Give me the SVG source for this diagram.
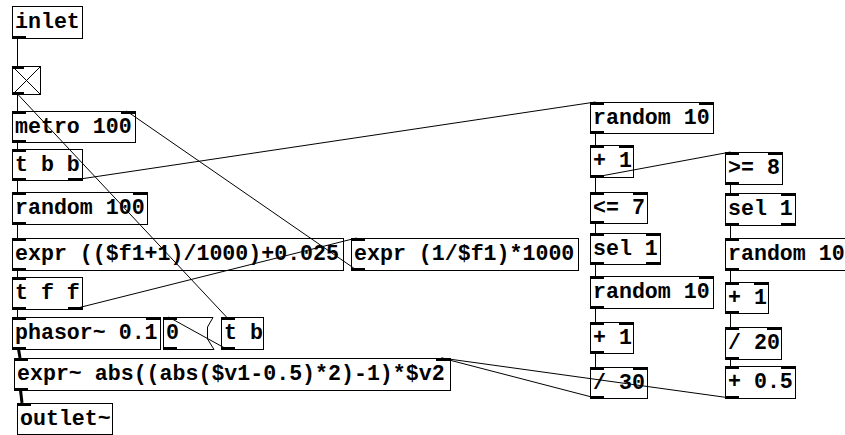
<svg xmlns="http://www.w3.org/2000/svg" width="845" height="435" viewBox="0 0 845 435">
  <defs>
    <style>
      .box { fill: none; stroke: #000; stroke-width: 1; }
      .io { fill: #000; }
      .t { font-family: "Liberation Mono", "DejaVu Sans Mono", monospace; font-weight: bold; font-size: 21.6px; fill: #000; }
      .c { fill: none; stroke: #000; stroke-width: 1; }
      .s { fill: none; stroke: #000; stroke-width: 3; }
    </style>
  </defs>
  <rect x="0" y="0" width="845" height="435" fill="#fff"/>

  <g id="nodes">
    <g id="inlet">
      <rect class="box" x="12.5" y="6.5" width="70" height="32"/>
      <rect class="io" x="12" y="36" width="14" height="3"/>
      <text class="t" x="15" y="28">inlet</text>
    </g>
    <g id="toggle">
      <rect class="box" x="12.5" y="66.5" width="28" height="28"/>
      <path class="c" d="M12.5,66.5 L40.5,94.5 M40.5,66.5 L12.5,94.5"/>
      <rect class="io" x="12" y="66" width="12" height="3"/>
      <rect class="io" x="12" y="92" width="12" height="3"/>
    </g>
    <g id="metro">
      <rect class="box" x="12.5" y="111.5" width="123" height="31"/>
      <rect class="io" x="12" y="111" width="14" height="3"/>
      <rect class="io" x="121" y="111" width="14" height="3"/>
      <rect class="io" x="12" y="140" width="14" height="3"/>
      <text class="t" x="15" y="133">metro 100</text>
    </g>
    <g id="trigger-bb">
      <rect class="box" x="12.5" y="149.5" width="70" height="31"/>
      <rect class="io" x="12" y="149" width="14" height="3"/>
      <rect class="io" x="12" y="178" width="14" height="3"/>
      <rect class="io" x="68" y="178" width="14" height="3"/>
      <text class="t" x="15" y="171">t b b</text>
    </g>
    <g id="random-100">
      <rect class="box" x="12.5" y="192.5" width="135" height="32"/>
      <rect class="io" x="12" y="192" width="14" height="3"/>
      <rect class="io" x="133" y="192" width="14" height="3"/>
      <rect class="io" x="12" y="222" width="14" height="3"/>
      <text class="t" x="15" y="214">random 100</text>
    </g>
    <g id="expr-period">
      <rect class="box" x="12.5" y="238.5" width="331" height="32"/>
      <rect class="io" x="12" y="238" width="14" height="3"/>
      <rect class="io" x="12" y="268" width="14" height="3"/>
      <text class="t" x="15" y="260">expr (($f1+1)/1000)+0.025</text>
    </g>
    <g id="expr-interval">
      <rect class="box" x="351.5" y="238.5" width="227" height="32"/>
      <rect class="io" x="351" y="238" width="14" height="3"/>
      <rect class="io" x="351" y="268" width="14" height="3"/>
      <text class="t" x="354" y="260">expr (1/$f1)*1000</text>
    </g>
    <g id="trigger-ff">
      <rect class="box" x="12.5" y="277.5" width="70" height="32"/>
      <rect class="io" x="12" y="277" width="14" height="3"/>
      <rect class="io" x="12" y="307" width="14" height="3"/>
      <rect class="io" x="68" y="307" width="14" height="3"/>
      <text class="t" x="15" y="299">t f f</text>
    </g>
    <g id="phasor">
      <rect class="box" x="12.5" y="317.5" width="148" height="32"/>
      <rect class="io" x="12" y="317" width="14" height="3"/>
      <rect class="io" x="146" y="317" width="14" height="3"/>
      <rect class="io" x="12" y="347" width="14" height="3"/>
      <text class="t" x="15" y="339">phasor~ 0.1</text>
    </g>
    <g id="msg-zero">
      <path class="box" d="M163.5,317.5 H213 L207.5,327 V339 L214,349.5 H163.5 Z"/>
      <rect class="io" x="163" y="317" width="14" height="3"/>
      <rect class="io" x="163" y="347" width="14" height="3"/>
      <text class="t" x="166" y="339">0</text>
    </g>
    <g id="trigger-b">
      <rect class="box" x="221.5" y="317.5" width="42" height="32"/>
      <rect class="io" x="221" y="317" width="14" height="3"/>
      <rect class="io" x="221" y="347" width="14" height="3"/>
      <text class="t" x="224" y="339">t b</text>
    </g>
    <g id="expr-tri">
      <rect class="box" x="14.5" y="358.5" width="436" height="32"/>
      <rect class="io" x="14" y="358" width="14" height="3"/>
      <rect class="io" x="436" y="358" width="14" height="3"/>
      <rect class="io" x="14" y="388" width="14" height="3"/>
      <text class="t" x="17" y="380">expr~ abs((abs($v1-0.5)*2)-1)*$v2</text>
    </g>
    <g id="outlet">
      <rect class="box" x="17.5" y="403.5" width="95" height="31"/>
      <rect class="io" x="17" y="403" width="14" height="3"/>
      <text class="t" x="20" y="425">outlet~</text>
    </g>

    <g id="random-10-a">
      <rect class="box" x="590.5" y="102.5" width="123" height="31"/>
      <rect class="io" x="590" y="102" width="14" height="3"/>
      <rect class="io" x="699" y="102" width="14" height="3"/>
      <rect class="io" x="590" y="131" width="14" height="3"/>
      <text class="t" x="593" y="124">random 10</text>
    </g>
    <g id="plus-1-a">
      <rect class="box" x="590.5" y="145.5" width="43" height="32"/>
      <rect class="io" x="590" y="145" width="14" height="3"/>
      <rect class="io" x="619" y="145" width="14" height="3"/>
      <rect class="io" x="590" y="175" width="14" height="3"/>
      <text class="t" x="593" y="167">+ 1</text>
    </g>
    <g id="le-7">
      <rect class="box" x="590.5" y="192.5" width="57" height="31"/>
      <rect class="io" x="590" y="192" width="14" height="3"/>
      <rect class="io" x="633" y="192" width="14" height="3"/>
      <rect class="io" x="590" y="221" width="14" height="3"/>
      <text class="t" x="593" y="214">&lt;= 7</text>
    </g>
    <g id="sel-1-a">
      <rect class="box" x="590.5" y="233.5" width="70" height="31"/>
      <rect class="io" x="590" y="233" width="14" height="3"/>
      <rect class="io" x="646" y="233" width="14" height="3"/>
      <rect class="io" x="590" y="262" width="14" height="3"/>
      <rect class="io" x="646" y="262" width="14" height="3"/>
      <text class="t" x="593" y="255">sel 1</text>
    </g>
    <g id="random-10-b">
      <rect class="box" x="590.5" y="276.5" width="123" height="32"/>
      <rect class="io" x="590" y="276" width="14" height="3"/>
      <rect class="io" x="699" y="276" width="14" height="3"/>
      <rect class="io" x="590" y="306" width="14" height="3"/>
      <text class="t" x="593" y="298">random 10</text>
    </g>
    <g id="plus-1-b">
      <rect class="box" x="590.5" y="322.5" width="43" height="31"/>
      <rect class="io" x="590" y="322" width="14" height="3"/>
      <rect class="io" x="619" y="322" width="14" height="3"/>
      <rect class="io" x="590" y="351" width="14" height="3"/>
      <text class="t" x="593" y="344">+ 1</text>
    </g>
    <g id="div-30">
      <rect class="box" x="590.5" y="367.5" width="57" height="31"/>
      <rect class="io" x="590" y="367" width="14" height="3"/>
      <rect class="io" x="633" y="367" width="14" height="3"/>
      <rect class="io" x="590" y="396" width="14" height="3"/>
      <text class="t" x="593" y="389">/ 30</text>
    </g>

    <g id="ge-8">
      <rect class="box" x="725.5" y="152.5" width="57" height="32"/>
      <rect class="io" x="725" y="152" width="14" height="3"/>
      <rect class="io" x="768" y="152" width="14" height="3"/>
      <rect class="io" x="725" y="182" width="14" height="3"/>
      <text class="t" x="728" y="174">&gt;= 8</text>
    </g>
    <g id="sel-1-b">
      <rect class="box" x="725.5" y="193.5" width="70" height="32"/>
      <rect class="io" x="725" y="193" width="14" height="3"/>
      <rect class="io" x="781" y="193" width="14" height="3"/>
      <rect class="io" x="725" y="223" width="14" height="3"/>
      <rect class="io" x="781" y="223" width="14" height="3"/>
      <text class="t" x="728" y="215">sel 1</text>
    </g>
    <g id="random-10-c">
      <rect class="box" x="725.5" y="238.5" width="123" height="32"/>
      <rect class="io" x="725" y="238" width="14" height="3"/>
      <rect class="io" x="725" y="268" width="14" height="3"/>
      <text class="t" x="728" y="260">random 10</text>
    </g>
    <g id="plus-1-c">
      <rect class="box" x="725.5" y="282.5" width="43" height="31"/>
      <rect class="io" x="725" y="282" width="14" height="3"/>
      <rect class="io" x="754" y="282" width="14" height="3"/>
      <rect class="io" x="725" y="311" width="14" height="3"/>
      <text class="t" x="728" y="304">+ 1</text>
    </g>
    <g id="div-20">
      <rect class="box" x="725.5" y="327.5" width="56" height="32"/>
      <rect class="io" x="725" y="327" width="14" height="3"/>
      <rect class="io" x="767" y="327" width="14" height="3"/>
      <rect class="io" x="725" y="357" width="14" height="3"/>
      <text class="t" x="728" y="349">/ 20</text>
    </g>
    <g id="plus-0-5">
      <rect class="box" x="725.5" y="366.5" width="70" height="32"/>
      <rect class="io" x="725" y="366" width="14" height="3"/>
      <rect class="io" x="781" y="366" width="14" height="3"/>
      <rect class="io" x="725" y="396" width="14" height="3"/>
      <text class="t" x="728" y="388">+ 0.5</text>
    </g>
  </g>

  <g id="connectors">
    <!-- control connections, left chain -->
    <path class="c" d="M17.5,38 V66"/>
    <path class="c" d="M17.5,94 V111"/>
    <path class="c" d="M17.5,94 L226.5,317"/>
    <path class="c" d="M17.5,142 V149"/>
    <path class="c" d="M17.5,180 V192"/>
    <path class="c" d="M73.5,180 L595.5,102"/>
    <path class="c" d="M17.5,224 V238"/>
    <path class="c" d="M17.5,270 V277"/>
    <path class="c" d="M356.5,270 L126.5,111"/>
    <path class="c" d="M73.5,309 L356.5,238"/>
    <path class="c" d="M17.5,309 V317"/>
    <path class="c" d="M226.5,349 L168.5,317"/>
    <path class="c" d="M595.5,398 L441.5,358"/>
    <path class="c" d="M730.5,398 L441.5,358"/>
    <!-- audio connections -->
    <path class="s" d="M18.5,349 L20,358"/>
    <path class="s" d="M20.5,390 L22,403"/>
    <!-- right column chains -->
    <path class="c" d="M595.5,133 V145"/>
    <path class="c" d="M595.5,177 V192"/>
    <path class="c" d="M595.5,177 L730.5,152"/>
    <path class="c" d="M595.5,223 V233"/>
    <path class="c" d="M595.5,264 V276"/>
    <path class="c" d="M595.5,308 V322"/>
    <path class="c" d="M595.5,353 V367"/>
    <path class="c" d="M730.5,184 V193"/>
    <path class="c" d="M730.5,225 V238"/>
    <path class="c" d="M730.5,270 V282"/>
    <path class="c" d="M730.5,313 V327"/>
    <path class="c" d="M730.5,359 V366"/>
  </g>
</svg>
